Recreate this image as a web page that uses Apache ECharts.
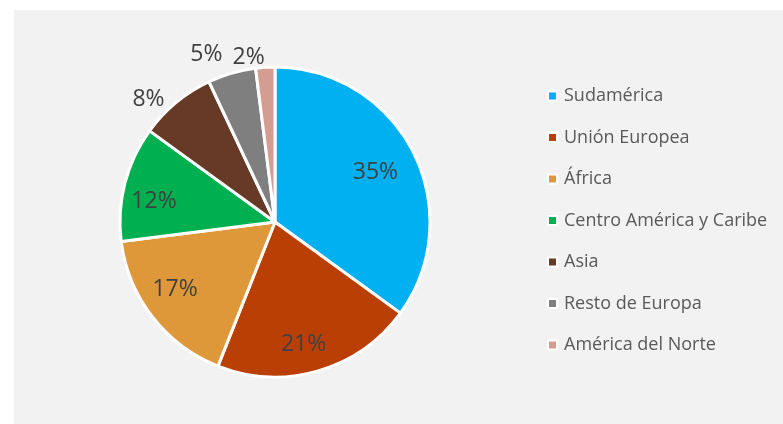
<!DOCTYPE html>
<html>
<head>
<meta charset="utf-8">
<script src="https://cdn.jsdelivr.net/npm/echarts@6/dist/echarts.min.js"></script>
<style>
  html, body { margin: 0; padding: 0; background: #fff; }
  #chart { width: 783px; height: 424px; }
</style>
</head>
<body>
<div id="chart"></div>
<script>
const regions = [
  "Sudamérica",
  "Unión Europea",
  "África",
  "Centro América y Caribe",
  "Asia",
  "Resto de Europa",
  "América del Norte",
];
const shares = [35, 21, 17, 12, 8, 5, 2];
const colors = ["#00b0f0", "#ba3f04", "#de9839", "#00b050", "#663a26", "#7f7f7f", "#d49d92"];
// slices whose label sits outside the pie
const outsideLabels = ["Asia", "Resto de Europa", "América del Norte"];
// small nudges so labels land where Excel's "best fit" put them
const labelNudge = [[-10, 7], [-6, 3], [-2, -8], [-1, 10], [-11, 17], [-18, 7], [-15, 16]];

const center = [275, 222];
const radius = 155;
const labelFont = { fontFamily: "Open Sans", fontSize: 23, color: "#404040" };

const pieData = regions.map((name, i) => ({
  name,
  value: shares[i],
  itemStyle: { color: colors[i] },
}));

// transparent copies of the pie, used only to place the percent labels
const labelData = (outside) =>
  regions.map((name, i) => ({
    name,
    value: shares[i],
    label: { show: outsideLabels.includes(name) === outside, offset: labelNudge[i] },
  }));

const labelSeries = (r, outside) => ({
  type: "pie",
  silent: true,
  center,
  radius: r,
  startAngle: 90,
  clockwise: true,
  legendHoverLink: false,
  itemStyle: { color: "transparent" },
  label: {
    position: "inside",
    formatter: "{c}%",
    ...labelFont,
  },
  labelLine: { show: false },
  emphasis: { disabled: true },
  data: labelData(outside),
});

const chart = echarts.init(document.getElementById("chart"));
chart.setOption({
  backgroundColor: "#ffffff",
  animation: false,
  graphic: [
    {
      type: "rect",
      z: -10,
      shape: { x: 14, y: 10, width: 769, height: 414 },
      style: { fill: "#f2f2f2" },
    },
  ],
  legend: {
    orient: "vertical",
    left: 542,
    top: 82,
    icon: "rect",
    itemWidth: 9,
    itemHeight: 9,
    itemGap: 23.5,
    itemStyle: { borderColor: "#ffffff", borderWidth: 2 },
    textStyle: {
      fontFamily: "Open Sans",
      fontSize: 18,
      color: "#595959",
      padding: [0, 0, 0, 2],
      lineHeight: 18,
    },
    data: regions,
  },
  series: [
    {
      type: "pie",
      center,
      radius,
      startAngle: 90,
      clockwise: true,
      itemStyle: { borderColor: "#ffffff", borderWidth: 3 },
      label: { show: false },
      labelLine: { show: false },
      emphasis: { disabled: true },
      data: pieData,
    },
    labelSeries([radius * 0.56, radius], false),
    labelSeries([radius, radius * 1.3], true),
  ],
});
</script>
</body>
</html>
